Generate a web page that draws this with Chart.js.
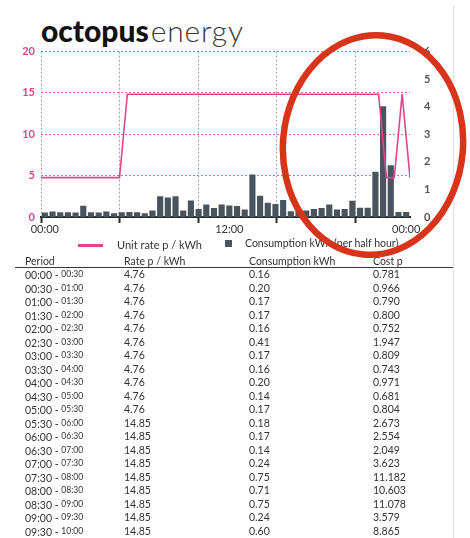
<!DOCTYPE html>
<html><head><meta charset="utf-8">
<script src="https://cdn.jsdelivr.net/npm/chart.js@4.4.1/dist/chart.umd.min.js"></script>
<style>
html,body{margin:0;padding:0;background:#fff;}
body{width:470px;height:538px;overflow:hidden;position:relative;font-family:Lato,"DejaVu Sans",sans-serif;color:#333;}
#logo{position:absolute;left:41px;top:12px;font-size:30px;line-height:36px;white-space:nowrap;}
#logo .a{font-weight:900;color:#111;letter-spacing:0px;}
#logo .b{font-weight:300;color:#3a3a3a;letter-spacing:0.8px;margin-left:2px;}
#chartBox{position:absolute;left:0;top:31px;width:470px;height:209px;}
.lg{position:absolute;font-size:11px;line-height:13px;white-space:nowrap;color:#333;}
#lgLine{position:absolute;left:78px;top:244px;width:25px;height:2.5px;background:#e0458e;}
#lgBox{position:absolute;left:225px;top:240px;width:7px;height:7px;background:#4a545e;}
#rule{position:absolute;left:453px;top:5px;width:1px;height:533px;background:#e2e2e2;}
#hline{position:absolute;left:15px;top:267px;width:438px;height:1px;background:#3a3a3a;}
#table{position:absolute;left:0;top:255px;width:470px;}
.row{position:relative;height:13.5px;line-height:13.5px;font-size:10.5px;white-space:nowrap;}
.hdr{height:12px;line-height:12px;margin-bottom:1px;}
.row span.c{position:absolute;top:0;}
.c0{left:25px}.c1{left:124px}.c2{left:249px}.c3{left:373px}
.sm{font-size:8.5px;vertical-align:2px;}
#circle{position:absolute;left:0;top:0;width:470px;height:538px;pointer-events:none;}
</style>
</head><body>
<div id="logo"><span class="a">octopus</span><span class="b">energy</span></div>
<div id="chartBox"><canvas id="c"></canvas></div>
<div id="lgLine"></div><div class="lg" id="lgT1" style="left:117px;top:238px;"></div>
<div id="lgBox"></div><div class="lg" id="lgT2" style="left:245px;top:236.5px;font-size:10.5px;"></div>
<div id="rule"></div>
<div id="table"></div>
<div id="hline"></div>
<svg id="circle" viewBox="0 0 470 538"><ellipse cx="373" cy="145" rx="90" ry="110" transform="rotate(5 373 145)" fill="none" stroke="#d8341a" stroke-width="6.5"/></svg>
<script>
// ---- data ----
const halfHours = ["00:00","00:30","01:00","01:30","02:00","02:30","03:00","03:30","04:00","04:30","05:00","05:30",
  "06:00","06:30","07:00","07:30","08:00","08:30","09:00","09:30","10:00","10:30","11:00","11:30",
  "12:00","12:30","13:00","13:30","14:00","14:30","15:00","15:30","16:00","16:30","17:00","17:30",
  "18:00","18:30","19:00","19:30","20:00","20:30","21:00","21:30","22:00","22:30","23:00","23:30"];
const unitRate = [4.76,4.76,4.76,4.76,4.76,4.76,4.76,4.76,4.76,4.76,4.76,14.85,
  14.85,14.85,14.85,14.85,14.85,14.85,14.85,14.85,14.85,14.85,14.85,14.85,
  14.85,14.85,14.85,14.85,14.85,14.85,14.85,14.85,14.85,14.85,14.85,14.85,
  14.85,14.85,14.85,14.85,14.85,14.85,14.85,14.85,4.76,4.76,14.85,4.76];
const consumption = [0.16,0.20,0.17,0.17,0.16,0.41,0.17,0.16,0.20,0.14,0.17,0.18,
  0.17,0.14,0.24,0.75,0.71,0.75,0.24,0.60,0.29,0.45,0.33,0.45,
  0.42,0.40,0.27,1.54,0.77,0.52,0.47,0.62,0.21,0.22,0.24,0.29,
  0.33,0.45,0.27,0.29,0.59,0.34,0.34,1.64,4.02,1.88,0.18,0.18];
const costPence = [0.781,0.966,0.790,0.800,0.752,1.947,0.809,0.743,0.971,0.681,
  0.804,2.673,2.554,2.049,3.623,11.182,10.603,11.078,3.579,8.865];
const tickIndex = [0,24,47];
const tickLabels = ["00:00","12:00","00:00"];
const gridTicks = [0,10,20,30,40];
const rateTicks = [0,5,10,15,20];
const consTicks = [0,1,2,3,4,5,6];
const seriesNames = ["Unit rate p / kWh","Consumption kWh (per half hour)"];
const tableHeader = ["Period","Rate p / kWh","Consumption kWh","Cost p"];
const tableRows = 20;

const PINK = '#e0458e', PINKGRID = '#e06aa4', BAR = '#4a545e';

// ---- legend & table text ----
document.getElementById('lgT1').textContent = seriesNames[0];
document.getElementById('lgT2').textContent = seriesNames[1];
const tb = document.getElementById('table');
let html = '<div class="row hdr">' + tableHeader.map((h,i)=>'<span class="c c'+i+'">'+h+'</span>').join('') + '</div>';
for (let i=0;i<tableRows;i++){
  const end = halfHours[(i+1)%48];
  html += '<div class="row"><span class="c c0">'+halfHours[i]+' - <span class="sm">'+end+'</span></span>'+
    '<span class="c c1">'+unitRate[i].toFixed(2)+'</span>'+
    '<span class="c c2">'+consumption[i].toFixed(2)+'</span>'+
    '<span class="c c3">'+costPence[i].toFixed(3)+'</span></div>';
}
tb.innerHTML = html;

// ---- chart ----
Chart.defaults.font.family = 'Lato';
Chart.defaults.color = '#333';
new Chart(document.getElementById('c'), {
  type: 'bar',
  data: {
    labels: halfHours,
    datasets: [
      { type:'line', label: seriesNames[0], data: unitRate.map((v,i)=>({x:i,y:v})),
        xAxisID:'x2', yAxisID:'y', borderColor:PINK, borderWidth:1.6, pointRadius:0, tension:0, fill:false, order:0 },
      { type:'bar', label: seriesNames[1], data: consumption, xAxisID:'x', yAxisID:'y2',
        backgroundColor:BAR, barPercentage:0.8, categoryPercentage:1.0, grouped:false, order:1 }
    ]
  },
  options: {
    responsive:true, maintainAspectRatio:false, animation:false,
    layout:{ padding:{ top:12, bottom:3, left:0, right:0 } },
    plugins:{ legend:{display:false}, tooltip:{enabled:false} },
    scales:{
      x2:{ type:'linear', position:'bottom', min:0, max:47, weight:0, offset:false,
        afterBuildTicks: s => { s.ticks = gridTicks.map(v=>({value:v})); },
        ticks:{ display:false },
        grid:{ offset:false, color:'#a0a0a0', lineWidth:1, drawTicks:true, tickLength:6, tickColor:'#2b2b2b', tickWidth:2, tickBorderDash:[] },
        border:{ display:true, color:'#2b2b2b', width:2, dash:[2,2] },
        afterFit: s => { s.height = 6; }
      },
      x:{ type:'category', position:'bottom', offset:true, weight:1,
        grid:{ display:false, drawTicks:false }, border:{ display:false },
        ticks:{ autoSkip:false, maxRotation:0, minRotation:0, padding:0, color:'#333', font:{size:11},
          callback:(v,i)=>{ const k = tickIndex.indexOf(i); return k>=0 ? tickLabels[k] : ''; } },
        afterFit: s => { s.height = 14; }
      },
      y:{ position:'left', min:0, max:20,
        afterBuildTicks: s => { s.ticks = rateTicks.map(v=>({value:v})); },
        ticks:{ color:PINK, font:{size:11, weight:'bold'}, padding:6 },
        grid:{ color: c => (c.tick && c.tick.value===0) ? 'rgba(0,0,0,0)' : PINKGRID, drawTicks:false, lineWidth:1 },
        border:{ display:false, dash:[2,2] },
        afterFit: s => { s.width = 41; }
      },
      y2:{ position:'right', min:0, max:6,
        afterBuildTicks: s => { s.ticks = consTicks.map(v=>({value:v})); },
        ticks:{ color:'#555', font:{size:11, weight:'bold'}, padding:14 },
        grid:{ display:false, drawTicks:false }, border:{ display:false },
        afterFit: s => { s.width = 60; }
      }
    }
  }
});
</script>
</body></html>
